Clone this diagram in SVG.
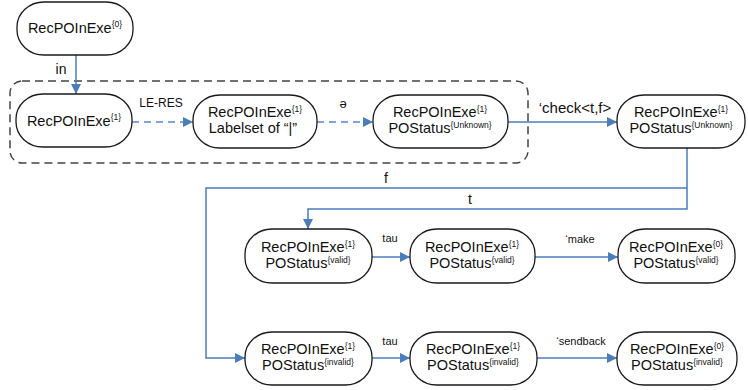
<svg xmlns="http://www.w3.org/2000/svg" width="748" height="390" viewBox="0 0 748 390">
<style>
.n{fill:#fff;stroke:#1a1a1a;stroke-width:1.3}
.t{font-family:"Liberation Sans",Arial,sans-serif;font-size:14.5px;fill:#111;text-anchor:middle}
.s{font-size:8.5px}
.l{font-family:"Liberation Sans",Arial,sans-serif;fill:#111;text-anchor:middle}
.e{fill:none;stroke:#4a7ebb;stroke-width:1.5}
.d{fill:none;stroke:#7ea6da;stroke-width:1.8;stroke-dasharray:7,5}
.box{fill:none;stroke:#444;stroke-width:1.5;stroke-dasharray:8,5}
</style>
<defs>
<marker id="ah" viewBox="0 0 10 10" refX="10" refY="5" markerWidth="10" markerHeight="10" markerUnits="userSpaceOnUse" orient="auto">
<path d="M0,0 L10,5 L0,10 z" fill="#4a7ebb"/>
</marker>
</defs>
<rect width="748" height="390" fill="#fff"/>
<rect class="box" x="10" y="81" width="518" height="82" rx="12"/>
<g id="connectors">
<path class="e" d="M76,55 V94" marker-end="url(#ah)"/>
<path class="d" d="M132,122 H193" marker-end="url(#ah)"/>
<path class="d" d="M317,122 H373" marker-end="url(#ah)"/>
<path class="e" d="M508,122 H617" marker-end="url(#ah)"/>
<path class="e" d="M687,148 V209 H308 V229" marker-end="url(#ah)"/>
<path class="e" d="M687,188 H206 V358 H245" marker-end="url(#ah)"/>
<path class="e" d="M372,257 H410" marker-end="url(#ah)"/>
<path class="e" d="M535,257 H618" marker-end="url(#ah)"/>
<path class="e" d="M372,358 H410" marker-end="url(#ah)"/>
<path class="e" d="M537,358 H617" marker-end="url(#ah)"/>
<text class="l" x="61" y="74" font-size="14">in</text>
<text class="l" x="161" y="107" font-size="12">LE-RES</text>
<text class="l" x="343" y="108" font-size="13">ә</text>
<text class="l" x="575" y="113" font-size="15">‘check&lt;t,f&gt;</text>
<text class="l" x="386" y="183" font-size="14">f</text>
<text class="l" x="470" y="204" font-size="14">t</text>
<text class="l" x="390" y="242" font-size="11">tau</text>
<text class="l" x="580" y="243" font-size="11">‘make</text>
<text class="l" x="390" y="345" font-size="11">tau</text>
<text class="l" x="581" y="345" font-size="11">‘sendback</text>
</g>
<g id="n0">
<rect class="n" x="17" y="2" width="116" height="53" rx="27" ry="25"/>
<text class="t" x="75" y="33">RecPOInExe<tspan class="s" dy="-6">{0}</tspan></text>
</g>
<g id="nA">
<rect class="n" x="16" y="94" width="116" height="53" rx="27" ry="25"/>
<text class="t" x="74" y="126">RecPOInExe<tspan class="s" dy="-6">{1}</tspan></text>
</g>
<g id="nB">
<rect class="n" x="193" y="95" width="124" height="53" rx="27" ry="25"/>
<text class="t" x="255" y="117">RecPOInExe<tspan class="s" dy="-5">{1}</tspan></text>
<text class="t" x="253" y="133">Labelset of  “|”</text>
</g>
<g id="nC">
<rect class="n" x="373" y="95" width="135" height="53" rx="27" ry="25"/>
<text class="t" x="440" y="117">RecPOInExe<tspan class="s" dy="-5">{1}</tspan></text>
<text class="t" x="440" y="133">POStatus<tspan class="s" dy="-5">{Unknown}</tspan></text>
</g>
<g id="nD">
<rect class="n" x="617" y="95" width="128" height="53" rx="27" ry="25"/>
<text class="t" x="681" y="117">RecPOInExe<tspan class="s" dy="-5">{1}</tspan></text>
<text class="t" x="681" y="133">POStatus<tspan class="s" dy="-5">{Unknown}</tspan></text>
</g>
<g id="nE">
<rect class="n" x="245" y="229" width="127" height="54" rx="27" ry="25"/>
<text class="t" x="308" y="252">RecPOInExe<tspan class="s" dy="-5">{1}</tspan></text>
<text class="t" x="308" y="268">POStatus<tspan class="s" dy="-5">{valid}</tspan></text>
</g>
<g id="nF">
<rect class="n" x="410" y="229" width="125" height="54" rx="27" ry="25"/>
<text class="t" x="472" y="252">RecPOInExe<tspan class="s" dy="-5">{1}</tspan></text>
<text class="t" x="472" y="268">POStatus<tspan class="s" dy="-5">{valid}</tspan></text>
</g>
<g id="nG">
<rect class="n" x="618" y="229" width="117" height="54" rx="27" ry="25"/>
<text class="t" x="676" y="252">RecPOInExe<tspan class="s" dy="-5">{0}</tspan></text>
<text class="t" x="676" y="268">POStatus<tspan class="s" dy="-5">{valid}</tspan></text>
</g>
<g id="nH">
<rect class="n" x="245" y="332" width="127" height="53" rx="27" ry="25"/>
<text class="t" x="308" y="354">RecPOInExe<tspan class="s" dy="-5">{1}</tspan></text>
<text class="t" x="308" y="370">POStatus<tspan class="s" dy="-5">{invalid}</tspan></text>
</g>
<g id="nI">
<rect class="n" x="410" y="332" width="127" height="53" rx="27" ry="25"/>
<text class="t" x="473" y="354">RecPOInExe<tspan class="s" dy="-5">{1}</tspan></text>
<text class="t" x="473" y="370">POStatus<tspan class="s" dy="-5">{invalid}</tspan></text>
</g>
<g id="nJ">
<rect class="n" x="617" y="332" width="120" height="53" rx="27" ry="25"/>
<text class="t" x="677" y="354">RecPOInExe<tspan class="s" dy="-5">{0}</tspan></text>
<text class="t" x="677" y="370">POStatus<tspan class="s" dy="-5">{invalid}</tspan></text>
</g>
</svg>
